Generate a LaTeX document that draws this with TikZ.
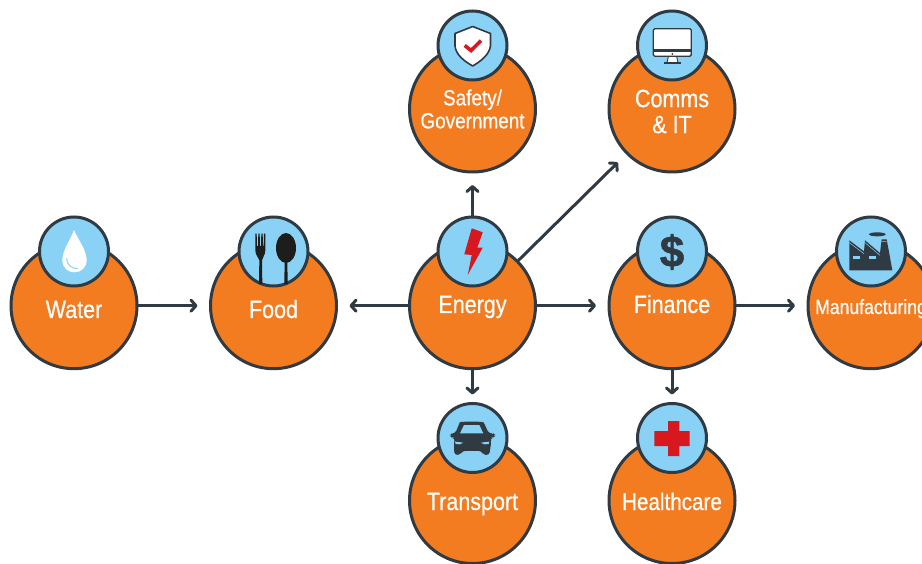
\documentclass[tikz,border=0pt]{standalone}
\usepackage{fontspec}
\setmainfont{Liberation Sans}[FakeStretch=0.86,FakeBold=0.5]
\newfontfamily\heavyfont{Liberation Sans Bold}[FakeBold=1.2]
\usetikzlibrary{arrows.meta}
\definecolor{hubfill}{HTML}{F47C20}
\definecolor{badgefill}{HTML}{89D2F5}
\definecolor{edge}{HTML}{2F3A42}
\definecolor{alert}{HTML}{D7181F}
\definecolor{cutlery}{HTML}{1D1D1B}
\begin{document}
\begin{tikzpicture}
	[x=1pt,y=-1pt,
	hub/.style={draw=edge,circle,line width=3pt,fill=hubfill,minimum size=126pt,inner sep=0pt,outer sep=0pt},
	badge/.style={draw=edge,circle,line width=3pt,fill=badgefill,minimum size=69pt,inner sep=0pt,outer sep=0pt},
	tag/.style={text=white,anchor=base,inner sep=0pt,font=\fontsize{25}{27}\selectfont},
	tagtwo/.style={text=white,align=center,inner sep=0pt},
	link/.style={draw=edge,line width=3pt,-{Straight Barb[length=5pt,width=11pt,round]},shorten >=13pt}]
	\clip (0,0) rectangle (922,564);
	% sectors
	\node[hub] (water) at (74,305.7) {};
	\node[hub] (food) at (273.5,305.7) {};
	\node[hub] (energy) at (472.5,305.7) {};
	\node[hub] (finance) at (672,305.7) {};
	\node[hub] (manufacturing) at (871,305.7) {};
	\node[hub] (safety) at (472.5,109) {};
	\node[hub] (comms) at (672,109) {};
	\node[hub] (transport) at (472.5,500.5) {};
	\node[hub] (healthcare) at (672,500.5) {};
	% icon discs
	\node[badge] (waterbadge) at (74,251.5) {};
	\node[badge] (foodbadge) at (273.5,251.5) {};
	\node[badge] (energybadge) at (472.5,251.5) {};
	\node[badge] (financebadge) at (672,251.5) {};
	\node[badge] (manufacturingbadge) at (871,251.5) {};
	\node[badge] (safetybadge) at (472.5,45.5) {};
	\node[badge] (commsbadge) at (672,45.5) {};
	\node[badge] (transportbadge) at (472.5,438) {};
	\node[badge] (healthcarebadge) at (672,438) {};
	% labels
	\node[tag] (waterlabel) at (74,318) {Water};
	\node[tag] (foodlabel) at (273.5,318) {Food};
	\node[tag] (energylabel) at (472.5,313) {Energy};
	\node[tag] (financelabel) at (672,313) {Finance};
	\node[tag,font=\fontsize{20.5}{22}\selectfont] (manufacturinglabel) at (871,314) {Manufacturing};
	\node[tagtwo,font=\fontsize{22}{23}\selectfont] (safetylabel) at (472.5,109) {Safety/\\Government};
	\node[tagtwo,font=\fontsize{25}{26}\selectfont] (commslabel) at (672,111.5) {Comms\\\& IT};
	\node[tag] (transportlabel) at (472.5,510) {Transport};
	\node[tag,font=\fontsize{24}{26}\selectfont] (healthcarelabel) at (672,510) {Healthcare};
	% connectors
	\draw[link] (water) -- (food);
	\draw[link] (energy) -- (food);
	\draw[link] (energy) -- (finance);
	\draw[link] (finance) -- (manufacturing);
	\draw[link] (energy) -- (comms);
	\draw[link] (energybadge) -- (safety);
	\draw[link,shorten >=9pt] (energy) -- (transportbadge);
	\draw[link,shorten >=9pt] (finance) -- (healthcarebadge);
	% drop
	\begin{scope}[shift={(50,225)},scale=1/3]
		\fill[white] (72,15) .. controls (64,40) and (37,75) .. (37,105) .. controls (37,130) and (55,142) .. (73,142) .. controls (93,142) and (110,128) .. (110,105) .. controls (110,75) and (82,40) .. (72,15) -- cycle;
		\draw[badgefill,line width=1pt] (50,100) .. controls (50,118) and (62,130) .. (84,131);
	\end{scope}
	% fork and spoon
	\begin{scope}[shift={(245,222)},scale=1/3]
		\fill[cutlery] (31,35) -- (35,35) -- (36,72) -- (39,72) -- (40,35) -- (44,35) -- (45,72) -- (48,72) -- (49,35) -- (53,35) -- (54,72) -- (56,72) -- (57,35) -- (61,35) -- (61,85) .. controls (61,100) and (52,105) .. (51,115) -- (52,186) -- (42,186) -- (43,115) .. controls (41,105) and (31,100) .. (31,85) -- cycle;
		\fill[cutlery] (123,78) ellipse (30 and 45);
		\fill[cutlery] (119,115) -- (127,115) -- (128,186) -- (118,186) -- cycle;
	\end{scope}
	% bolt
	\fill[alert] (471.7,228.3) -- (482.7,232.3) -- (477.3,247.7) -- (482.7,247.7) -- (467.7,275) -- (471.7,255) -- (464.3,254.3) -- cycle;
	% dollar
	\node[text=edge,inner sep=0pt,font=\fontsize{44}{44}\selectfont\heavyfont] (dollar) at (672,252) {\$};
	% shield
	\draw[edge,fill=white,line width=1.6pt,line join=round] (472.7,26.5) -- (490.5,33.5) -- (490.5,46) .. controls (489,55) and (481,61) .. (472.7,66) .. controls (464,61) and (456,55) .. (455,46) -- (455,33.5) -- cycle;
	\draw[alert,line width=3.6pt] (464.7,45.5) -- (471,50.5) -- (481,40.7);
	% monitor
	\begin{scope}[shift={(640,15)},scale=1/3]
		\fill[white] (85,125) -- (110,125) -- (114,143) -- (81,143) -- cycle;
		\draw[edge,line width=0.9pt] (85,125) -- (81,143) (110,125) -- (114,143);
		\fill[edge] (72,142) rectangle (123,147);
		\draw[edge,fill=white,line width=1.3pt,rounded corners=1.5pt] (40,41) rectangle (154,124);
		\fill[edge] (40,103) rectangle (154,110);
		\fill[edge] (97,117) circle (3);
	\end{scope}
	% car
	\begin{scope}[shift={(440,410)},scale=1/3]
		\fill[edge,rounded corners=3pt] (42,120) -- (42,95) -- (46,84) -- (35,84) -- (30,76) -- (35,70) -- (46,70) -- (56,45) .. controls (60,36) and (70,35) .. (95,35) .. controls (120,35) and (130,36) .. (135,45) -- (146,70) -- (160,70) -- (166,76) -- (160,84) -- (150,84) -- (154,95) -- (150,120) -- (148,135) -- (130,135) -- (126,123) -- (66,123) -- (60,135) -- (44,135) -- cycle;
		\fill[badgefill] (72,45) -- (118,45) -- (130,70) -- (60,70) -- cycle;
		\fill[badgefill] (45,95) -- (70,98) -- (60,103) -- (47,102) -- cycle;
		\fill[badgefill] (148,95) -- (122,98) -- (133,103) -- (146,102) -- cycle;
	\end{scope}
	% cross
	\fill[alert] (668,421) -- (679.3,421) -- (679.3,431) -- (689.7,431) -- (689.7,446) -- (679.3,446) -- (679.3,456) -- (668,456) -- (668,446) -- (654.3,446) -- (654.3,431) -- (668,431) -- cycle;
	% factory
	\begin{scope}[shift={(840,222)},scale=1/3]
		\fill[edge] (28,55) -- (72,88) -- (75,55) -- (120,93) -- (125,52) -- (140,52) -- (148,95) -- (157,145) -- (28,145) -- cycle;
		\fill[edge] (112,37) ellipse (25 and 6);
		\draw[badgefill,line width=.5pt] (28,62) -- (72,95) (75,62) -- (120,100) (125,58) -- (140,58);
		\fill[badgefill] (40,102) rectangle (60,110);
		\fill[badgefill] (87,102) rectangle (107,110);
	\end{scope}
\end{tikzpicture}
\end{document}
